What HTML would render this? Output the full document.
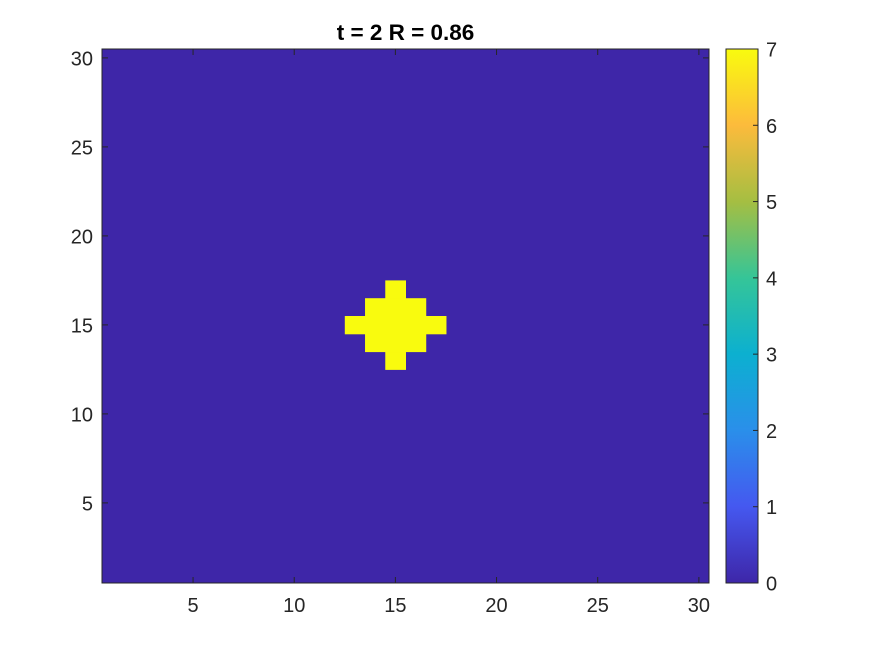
<!DOCTYPE html>
<html><head><meta charset="utf-8"><style>
body{margin:0;background:#fff;}
svg{display:block;font-family:"Liberation Sans",Arial,sans-serif;}
</style></head><body>
<svg id="chart" width="875" height="656">
<rect width="875" height="656" fill="#fff"/>
<text x="405.5" y="40" text-anchor="middle" font-size="22.5" font-weight="bold" fill="#000">t = 2 R = 0.86</text>
<g id="plot"></g>
<defs><linearGradient id="parula" x1="0" y1="1" x2="0" y2="0">
<stop offset="0" stop-color="#3e26a8"/><stop offset="0.143" stop-color="#4558f0"/>
<stop offset="0.286" stop-color="#2a8fea"/><stop offset="0.429" stop-color="#0cb0d0"/>
<stop offset="0.571" stop-color="#35c598"/><stop offset="0.714" stop-color="#a5be42"/>
<stop offset="0.857" stop-color="#fcbb3c"/><stop offset="1" stop-color="#f9fb0e"/>
</linearGradient></defs>
<rect x="726" y="49" width="32" height="534" fill="url(#parula)" stroke="#262626" stroke-width="1"/>
<g id="cbticks"></g>
</svg>
<script>
const xTicks=[5,10,15,20,25,30];
const yTicks=[5,10,15,20,25,30];
const cbTicks=[0,1,2,3,4,5,6,7];
const hotRows=[13,14,14,14,15,15,15,15,15,16,16,16,17];
const hotCols=[15,14,15,16,13,14,15,16,17,14,15,16,15];
const hotValues=[7,7,7,7,7,7,7,7,7,7,7,7,7];
const baseValue=0;
const L=102,R=709,T=49,B=583,N=30;
const sx=v=>L+(v-0.5)*(R-L)/N;
const sy=v=>B-(v-0.5)*(B-T)/N;
const cy=v=>B-v*(B-T)/7;
const NS='http://www.w3.org/2000/svg';
const g=document.getElementById('plot');
function mk(t,a,p){const e=document.createElementNS(NS,t);for(const k in a)e.setAttribute(k,a[k]);(p||g).appendChild(e);return e;}
function col(v){return v>=7?'#f9fb0e':'#3e26a8';}
const bg=mk('rect',{x:L,y:T,width:R-L,height:B-T,fill:col(baseValue)});


hotRows.forEach((r,i)=>{
 const c=hotCols[i];
 const e=mk('rect',{x:sx(c-0.5),y:sy(r+0.5),width:sx(c+0.5)-sx(c-0.5)+0.5,height:sy(r-0.5)-sy(r+0.5)+0.5,fill:col(hotValues[i])});
 
 
});
const fr=mk('rect',{x:L,y:T,width:R-L,height:B-T,fill:'none',stroke:'#262626','stroke-width':1});


xTicks.forEach(v=>{
 const x=sx(v);
 mk('line',{x1:x,x2:x,y1:B,y2:B-6,stroke:'#262626'});
 mk('line',{x1:x,x2:x,y1:T,y2:T+6,stroke:'#262626'});
 const t=mk('text',{x:x,y:B+29,'text-anchor':'middle','font-size':20,fill:'#262626'});t.textContent=v;
 
 
});
yTicks.forEach(v=>{
 const y=sy(v);
 mk('line',{x1:L,x2:L+6,y1:y,y2:y,stroke:'#262626'});
 mk('line',{x1:R,x2:R-6,y1:y,y2:y,stroke:'#262626'});
 const t=mk('text',{x:L-9,y:y+7.5,'text-anchor':'end','font-size':20,fill:'#262626'});t.textContent=v;
 
 
});
const cg=document.getElementById('cbticks');
cbTicks.forEach(v=>{
 const y=cy(v);
 mk('line',{x1:758,x2:753,y1:y,y2:y,stroke:'#262626'},cg);
 const t=mk('text',{x:766,y:y+7.5,'font-size':20,fill:'#262626'},cg);t.textContent=v;
 
 
});
</script>
</body></html>
